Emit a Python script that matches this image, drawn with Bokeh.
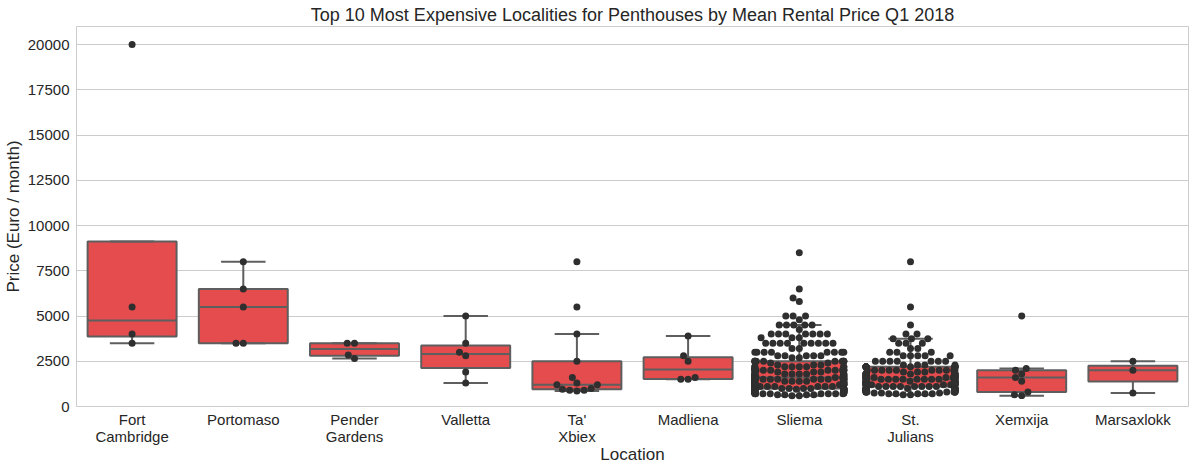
import numpy as np
from bokeh.plotting import figure
from bokeh.models import FixedTicker, Range1d, BasicTickFormatter
from bokeh.embed import file_html
from bokeh.resources import INLINE

# ---------------- data ----------------
tick_labels = ["Fort\nCambridge", "Portomaso", "Pender\nGardens", "Valletta", "Ta'\nXbiex",
               "Madliena", "Sliema", "St.\nJulians", "Xemxija", "Marsaxlokk"]

fort_cambridge = [3500, 4000, 5500, 20000]
portomaso = [3500, 3500, 5500, 6500, 8000]
pender_gardens = [2650, 2850, 3500, 3500]
valletta = [1300, 1900, 2800, 3000, 3500, 5000]
ta_xbiex = [850, 900, 900, 950, 1000, 1200, 1200, 1300, 1600, 2500, 4000, 5500, 8000]
madliena = [1500, 1500, 1600, 2500, 2800, 3900]

sliema_prices = [8500, 6500, 6000, 5800, 5000, 4800, 4500, 4250, 4000, 3800, 3500, 3200, 3000, 2800, 2700,
                 2500, 2400, 2300, 2200, 2100, 2000, 1900, 1800, 1700, 1600, 1500, 1400, 1300, 1200, 1100,
                 1000, 950, 900, 850, 800, 750, 700, 650, 600]
sliema_counts = [1, 1, 1, 1, 3, 1, 5, 1, 7, 3, 9, 2, 8, 5, 2,
                 10, 2, 3, 8, 3, 12, 3, 10, 6, 10, 14, 8, 10, 12, 6,
                 14, 4, 10, 4, 10, 6, 8, 4, 2]

st_julians_prices = [8000, 5500, 4500, 4000, 3750, 3500, 3200, 3000, 2800, 2500, 2300,
                     2200, 2000, 1900, 1800, 1700, 1600, 1500, 1400, 1300, 1200, 1100,
                     1000, 950, 900, 850, 800, 750, 700, 650]
st_julians_counts = [1, 1, 1, 2, 3, 3, 2, 3, 5, 7, 4,
                     14, 10, 3, 10, 5, 12, 12, 8, 10, 12, 8,
                     10, 3, 9, 3, 9, 3, 5, 2]

xemxija = [600, 650, 800, 1400, 1600, 1800, 2000, 2100, 5000]
marsaxlokk = [750, 2000, 2500]

sliema = list(np.repeat(sliema_prices, sliema_counts))
st_julians = list(np.repeat(st_julians_prices, st_julians_counts))

groups = [fort_cambridge, portomaso, pender_gardens, valletta, ta_xbiex,
          madliena, sliema, st_julians, xemxija, marsaxlokk]

# ---------------- styling ----------------
FONT = "Liberation Sans"
TXT = "#262626"
GRID = "#cccccc"
BOX_FILL = "#e54c4e"
BOX_LINE = "#5e5e5e"
DOT = "#2f2f2f"

FRAME_W = 1112
FRAME_H = 380
Y_MAX = 21000
px_per_x = FRAME_W / 10.0
px_per_y = FRAME_H / Y_MAX


def swarm_offsets(values, d=6.94, half_width_px=0.4 * px_per_x):
    y = np.asarray(values, float) * px_per_y
    order = np.argsort(y, kind="mergesort")
    xs = np.zeros(len(y))
    pxs, pys = [], []
    for i in order:
        yi = y[i]
        neigh = [(a, b) for a, b in zip(pxs, pys) if abs(b - yi) < d]
        cands = [0.0]
        left_first = True
        for a, b in neigh:
            dx = np.sqrt(max(d * d - (yi - b) ** 2, 0.0)) * 1.05
            if left_first:
                cands += [a - dx, a + dx]
            else:
                cands += [a + dx, a - dx]
            left_first = not left_first
        cands = sorted(cands, key=abs)
        chosen = cands[-1]
        for c in cands:
            if all((c - a) ** 2 + (yi - b) ** 2 >= d * d - 1e-6 for a, b in neigh):
                chosen = c
                break
        xs[i] = chosen
        pxs.append(chosen)
        pys.append(yi)
    return np.clip(xs, -half_width_px, half_width_px)


p = figure(frame_width=FRAME_W, frame_height=FRAME_H,
           x_range=Range1d(-0.5, 9.5), y_range=Range1d(0, Y_MAX),
           output_backend="svg", toolbar_location=None,
           title="Top 10 Most Expensive Localities for Penthouses by Mean Rental Price Q1 2018",
           min_border_left=0, min_border_right=1, min_border_top=0, min_border_bottom=0)

p.title.align = "center"
p.title.text_font = FONT
p.title.text_font_size = "18px"
p.title.text_font_style = "normal"
p.title.text_color = TXT
p.title.standoff = 4

p.outline_line_color = GRID
p.outline_line_width = 1
p.background_fill_color = "white"
p.border_fill_color = "white"

p.xgrid.grid_line_color = None
p.ygrid.grid_line_color = GRID
p.ygrid.grid_line_width = 1

p.yaxis.ticker = FixedTicker(ticks=[0, 2500, 5000, 7500, 10000, 12500, 15000, 17500, 20000])
p.yaxis.formatter = BasicTickFormatter(use_scientific=False)
p.xaxis.ticker = FixedTicker(ticks=list(range(10)))
p.xaxis.major_label_overrides = {i: lab for i, lab in enumerate(tick_labels)}

for ax in (p.xaxis[0], p.yaxis[0]):
    ax.axis_line_color = None
    ax.major_tick_line_color = None
    ax.minor_tick_line_color = None
    ax.major_tick_out = 0
    ax.major_tick_in = 0
    ax.major_label_text_font = FONT
    ax.major_label_text_font_size = "15px"
    ax.major_label_text_color = TXT
    ax.axis_label_text_font = FONT
    ax.axis_label_text_font_size = "17px"
    ax.axis_label_text_font_style = "normal"
    ax.axis_label_text_color = TXT

p.xaxis.axis_label = "Location"
p.yaxis.axis_label = "Price (Euro / month)"
p.yaxis.major_label_standoff = 7
p.yaxis.axis_label_standoff = 2
p.xaxis.major_label_standoff = 4
p.xaxis.major_label_text_line_height = 1.0
p.xaxis.axis_label_standoff = -3

# ---------------- boxes ----------------
for i, vals in enumerate(groups):
    v = np.asarray(vals, float)
    q1, med, q3 = np.percentile(v, [25, 50, 75])
    iqr = q3 - q1
    hi = max(v[v <= q3 + 1.5 * iqr].max(), q3)
    lo = min(v[v >= q1 - 1.5 * iqr].min(), q1)
    p.quad(left=[i - 0.4], right=[i + 0.4], bottom=[q1], top=[q3],
           fill_color=BOX_FILL, line_color=BOX_LINE, line_width=2)
    p.segment(x0=[i - 0.4], x1=[i + 0.4], y0=[med], y1=[med], line_color=BOX_LINE, line_width=2)
    if hi > q3:
        p.segment(x0=[i], x1=[i], y0=[q3], y1=[hi], line_color=BOX_LINE, line_width=2)
    if lo < q1:
        p.segment(x0=[i], x1=[i], y0=[q1], y1=[lo], line_color=BOX_LINE, line_width=2)
    p.segment(x0=[i - 0.2, i - 0.2], x1=[i + 0.2, i + 0.2], y0=[hi, lo], y1=[hi, lo],
              line_color=BOX_LINE, line_width=2)

# ---------------- swarm ----------------
for i, vals in enumerate(groups):
    offs = swarm_offsets(vals)
    p.scatter(x=i + offs / px_per_x, y=np.asarray(vals, float), size=7,
              fill_color=DOT, line_color=None)

open("out.html", "w").write(file_html(p, INLINE))
